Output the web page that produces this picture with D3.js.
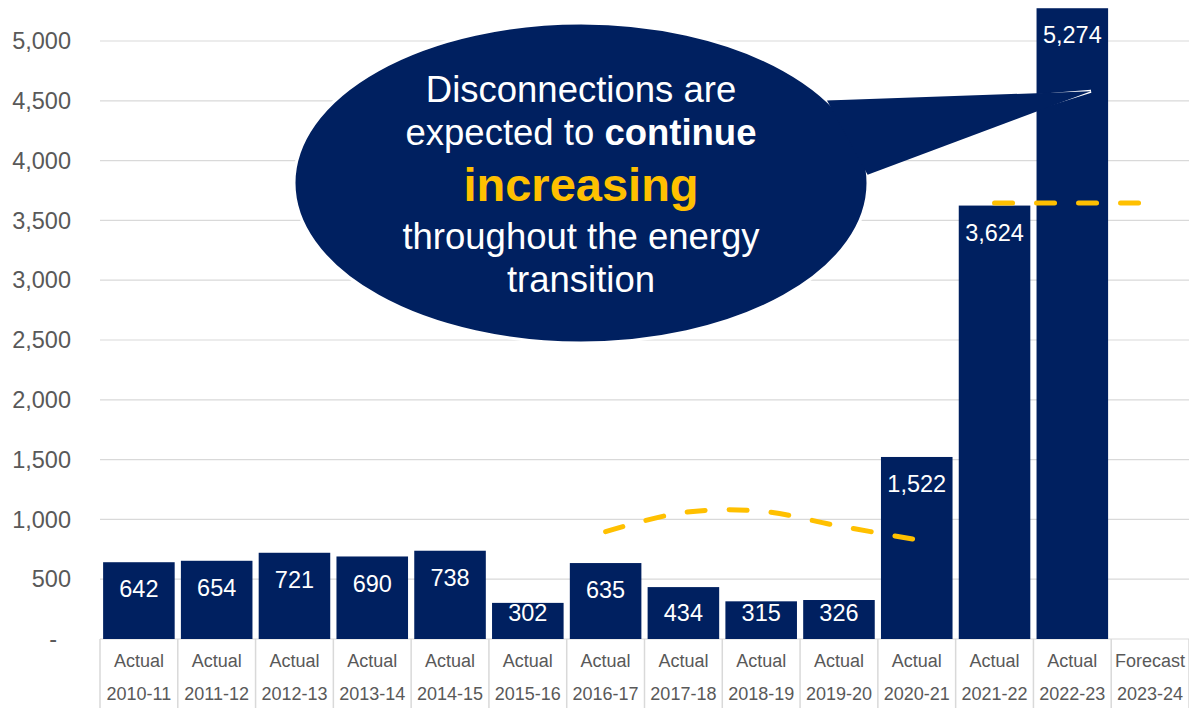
<!DOCTYPE html>
<html>
<head>
<meta charset="utf-8">
<script src="https://cdn.jsdelivr.net/npm/d3@7/dist/d3.min.js"></script>
<style>
  html, body { margin: 0; padding: 0; background: #ffffff; }
  svg { display: block; }
  text { font-family: "Liberation Sans", Arial, sans-serif; }
</style>
</head>
<body>
<svg id="chart" width="1189" height="708"></svg>
<script>
// Financial years and their status
const categories = ["2010-11","2011-12","2012-13","2013-14","2014-15","2015-16","2016-17",
                    "2017-18","2018-19","2019-20","2020-21","2021-22","2022-23","2023-24"];
const status = ["Actual","Actual","Actual","Actual","Actual","Actual","Actual",
                "Actual","Actual","Actual","Actual","Actual","Actual","Forecast"];
// Disconnections per year (no value yet for the forecast year)
const disconnections = [642, 654, 721, 690, 738, 302, 635, 434, 315, 326, 1522, 3624, 5274, null];
// Value-axis ticks
const yTicks = [0, 500, 1000, 1500, 2000, 2500, 3000, 3500, 4000, 4500, 5000];

// Hand-drawn trend hints (category index, value)
const trendArc = [
  { idx: 6,  value: 897 },
  { idx: 7,  value: 1058 },
  { idx: 8,  value: 1068 },
  { idx: 9,  value: 945 },
  { idx: 10, value: 830 }
];
const plateau = [
  { idx: 11, value: 3645 },
  { idx: 13, value: 3645 }
];

const NAVY = "#002060";
const GOLD = "#FFC000";
const GRID = "#d9d9d9";
const LABEL = "#595959";

const svg = d3.select("#chart");

const x = d3.scaleBand()
  .domain(categories)
  .range([100, 1189])
  .paddingInner(0.08)
  .paddingOuter(0.04);
const step = x.step();
const xCenter = i => x(categories[i]) + x.bandwidth() / 2;

const y = d3.scaleLinear().domain([0, 5000]).range([639, 41]);

// Gridlines
svg.append("g")
  .selectAll("line")
  .data(yTicks)
  .join("line")
  .attr("x1", 100).attr("x2", 1189)
  .attr("y1", d => y(d)).attr("y2", d => y(d))
  .attr("stroke", GRID).attr("stroke-width", 1.2);

// Value axis labels
const fmt = d3.format(",");
svg.append("g")
  .selectAll("text")
  .data(yTicks)
  .join("text")
  .attr("x", d => d === 0 ? 57 : 71)
  .attr("y", d => y(d))
  .attr("dy", "0.35em")
  .attr("text-anchor", "end")
  .attr("font-size", 23.5)
  .attr("fill", LABEL)
  .text(d => d === 0 ? "-" : fmt(d));

// Category axis: separators and two-row labels
const bounds = d3.range(categories.length + 1).map(i => 100 + i * step);
svg.append("g")
  .selectAll("line")
  .data(bounds)
  .join("line")
  .attr("x1", d => d).attr("x2", d => d)
  .attr("y1", y(0)).attr("y2", 708)
  .attr("stroke", GRID).attr("stroke-width", 1.5);

const catG = svg.append("g").attr("font-size", 18).attr("fill", LABEL).attr("text-anchor", "middle");
catG.selectAll("text.status")
  .data(categories)
  .join("text")
  .attr("class", "status")
  .attr("x", (d, i) => xCenter(i))
  .attr("y", 661)
  .attr("dy", "0.35em")
  .text((d, i) => status[i]);
catG.selectAll("text.year")
  .data(categories)
  .join("text")
  .attr("class", "year")
  .attr("x", (d, i) => xCenter(i))
  .attr("y", 694)
  .attr("dy", "0.35em")
  .text(d => d);

// Bars
const barData = categories.map((c, i) => ({ cat: c, value: disconnections[i] }))
  .filter(d => d.value != null);

svg.append("g")
  .selectAll("rect")
  .data(barData)
  .join("rect")
  .attr("x", d => x(d.cat))
  .attr("width", x.bandwidth())
  .attr("y", d => y(d.value))
  .attr("height", d => y(0) - y(d.value))
  .attr("fill", NAVY);

// Value labels inside the top of each bar, kept clear of the baseline on short bars
svg.append("g")
  .selectAll("text")
  .data(barData)
  .join("text")
  .attr("x", d => x(d.cat) + x.bandwidth() / 2)
  .attr("y", d => Math.min(y(d.value) + 27, y(0) - 26))
  .attr("dy", "0.35em")
  .attr("text-anchor", "middle")
  .attr("font-size", 23.5)
  .attr("fill", "#ffffff")
  .text(d => fmt(d.value));

// Dashed trend hints
const trendLine = d3.line()
  .x(d => xCenter(d.idx))
  .y(d => y(d.value))
  .curve(d3.curveCatmullRom.alpha(0.5));

[trendArc, plateau].forEach(pts => {
  svg.append("path")
    .attr("d", trendLine(pts))
    .attr("fill", "none")
    .attr("stroke", GOLD)
    .attr("stroke-width", 5)
    .attr("stroke-linecap", "round")
    .attr("stroke-dasharray", "18 24");
});

// Callout bubble pointing at the latest actual bar
const cx = 581, cy = 183, rx = 287, ry = 160;
const onEllipse = deg => {
  const t = deg * Math.PI / 180;
  return [cx + rx * Math.cos(t), cy + ry * Math.sin(t)];
};
const tip = [x("2022-23") + x.bandwidth() * 0.76, y(4580)];
const tailPts = [onEllipse(-26.5), tip, onEllipse(-7.5)];

const callout = svg.append("g");
// outline pass
callout.append("polygon")
  .attr("points", tailPts.map(p => p.join(",")).join(" "))
  .attr("fill", NAVY).attr("stroke", "#ffffff").attr("stroke-width", 3)
  .attr("stroke-linejoin", "miter");
callout.append("ellipse")
  .attr("cx", cx).attr("cy", cy).attr("rx", rx).attr("ry", ry)
  .attr("fill", NAVY).attr("stroke", "#ffffff").attr("stroke-width", 3);
// fill pass to merge tail and body
callout.append("polygon")
  .attr("points", [onEllipse(-31), tip, onEllipse(-3)].map(p => p.join(",")).join(" "))
  .attr("fill", NAVY);

const lines = [
  { y: 102, parts: [{ t: "Disconnections are" }] },
  { y: 145, parts: [{ t: "expected to " }, { t: "continue", bold: true }] },
  { y: 201, parts: [{ t: "increasing", bold: true, gold: true, size: 47 }] },
  { y: 249, parts: [{ t: "throughout the energy" }] },
  { y: 292, parts: [{ t: "transition" }] }
];
lines.forEach(line => {
  const t = callout.append("text")
    .attr("x", cx)
    .attr("y", line.y)
    .attr("text-anchor", "middle")
    .attr("font-size", 36.5)
    .attr("fill", "#ffffff");
  line.parts.forEach(p => {
    const s = t.append("tspan").text(p.t);
    if (p.bold) s.attr("font-weight", "bold");
    if (p.gold) s.attr("fill", GOLD);
    if (p.size) s.attr("font-size", p.size);
  });
});
</script>
</body>
</html>
